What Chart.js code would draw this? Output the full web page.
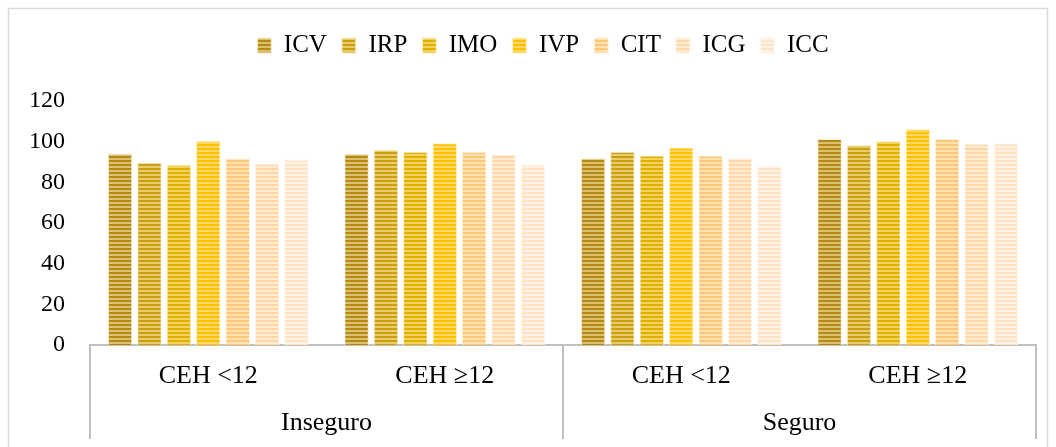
<!DOCTYPE html>
<html><head><meta charset="utf-8">
<script src="https://cdn.jsdelivr.net/npm/chart.js@4.4.1/dist/chart.umd.min.js"></script>
<style>html,body{margin:0;padding:0;background:#fff}#wrap{width:1056px;height:447px;position:relative}</style>
</head><body><div id="wrap"><canvas id="c" width="1056" height="447"></canvas></div>
<script>
const categories = ['CEH <12', 'CEH \u226512', 'CEH <12', 'CEH \u226512'];
const groups = ['Inseguro', 'Seguro'];
const seriesNames = ['ICV', 'IRP', 'IMO', 'IVP', 'CIT', 'ICG', 'ICC'];
const ICV = [94.2, 94.0, 91.9, 101.3];
const IRP = [89.8, 96.0, 95.1, 98.4];
const IMO = [88.6, 95.0, 93.2, 100.3];
const IVP = [100.5, 99.2, 97.1, 106.2];
const CIT = [91.9, 95.0, 93.2, 101.3];
const ICG = [89.1, 93.8, 91.9, 98.8];
const ICC = [91.2, 88.8, 88.1, 99.2];
const yTicks = [0, 20, 40, 60, 80, 100, 120];

const seriesValues = [ICV, IRP, IMO, IVP, CIT, ICG, ICC];
const stripeColors = [
  ['#b38b12', '#dbc072', '#fbf0d2'],
  ['#c99f14', '#e8cc6c', '#fbf0d2'],
  ['#e0b000', '#f3d25e', '#fdf2cf'],
  ['#ffc000', '#ffd866', '#fff2c8'],
  ['#fcc875', '#fee1b2', '#fff3e0'],
  ['#fdd8a6', '#feebd2', '#fff6ea'],
  ['#fee3c4', '#fff1e3', '#fff8f0']
];
function makePattern(dark, light) {
  const c = document.createElement('canvas');
  c.width = 4; c.height = 4;
  const g = c.getContext('2d');
  g.fillStyle = light; g.fillRect(0, 0, 4, 4);
  g.fillStyle = dark; g.fillRect(0, 0, 4, 2);
  return g.createPattern(c, 'repeat');
}
const FONT = "'Liberation Serif', 'Times New Roman', serif";

const framePlugin = {
  id: 'frame',
  beforeInit(chart) {
    const lg = chart.legend;
    if (lg) {
      const orig = lg.fit;
      lg.fit = function () { orig.call(this); this.height += 33; };
    }
  },
  afterLayout(chart) {
    const lg = chart.legend;
    if (lg) { lg.left += 20; lg.right += 20; }
  },
  beforeDraw(chart) {
    const ctx = chart.ctx;
    ctx.save();
    ctx.fillStyle = '#ffffff';
    ctx.fillRect(0, 0, chart.width, chart.height);
    ctx.strokeStyle = '#d9d9d9';
    ctx.lineWidth = 1.5;
    ctx.strokeRect(8.5, 8.5, 1039, 470);
    ctx.restore();
  },
  afterDraw(chart) {
    const ctx = chart.ctx;
    const sx = chart.scales.x2;
    const n = groups.length;
    const w = (sx.right - sx.left) / n;
    ctx.save();
    ctx.strokeStyle = '#bfbfbf';
    ctx.lineWidth = 2;
    for (let i = 0; i <= n; i++) {
      const x = Math.round(sx.left + i * w);
      ctx.beginPath();
      ctx.moveTo(x, chart.chartArea.bottom);
      ctx.lineTo(x, 439);
      ctx.stroke();
    }
    ctx.restore();
  }
};

new Chart(document.getElementById('c'), {
  type: 'bar',
  data: {
    labels: categories,
    datasets: seriesNames.map((name, i) => ({
      label: name,
      data: seriesValues[i],
      backgroundColor: makePattern(stripeColors[i][0], stripeColors[i][1]),
      borderColor: stripeColors[i][2],
      borderWidth: 1,
      categoryPercentage: 0.87,
      barPercentage: 0.835
    }))
  },
  options: {
    responsive: false,
    animation: false,
    devicePixelRatio: 1,
    layout: { padding: { left: 10, right: 20, top: 18, bottom: 0 } },
    plugins: {
      legend: {
        position: 'top',
        labels: {
          font: { family: FONT, size: 25 },
          color: '#000',
          boxWidth: 14,
          boxHeight: 15,
          padding: 15
        }
      },
      tooltip: { enabled: false }
    },
    scales: {
      y: {
        min: 0, max: 120,
        afterBuildTicks(scale) { scale.ticks = yTicks.map(v => ({ value: v })); },
        afterFit(scale) { scale.width = 80; },
        grid: { display: false, drawTicks: false },
        border: { display: false },
        ticks: { font: { family: FONT, size: 24 }, color: '#000', padding: 25 }
      },
      x: {
        afterFit(scale) { scale.height = 47; },
        grid: { display: false, drawTicks: false },
        border: { display: true, color: '#bfbfbf', width: 2 },
        ticks: { font: { family: FONT, size: 26 }, color: '#000', padding: 16, maxRotation: 0, autoSkip: false }
      },
      x2: {
        type: 'category',
        labels: groups,
        position: 'bottom',
        offset: true,
        afterFit(scale) { scale.height = 55; },
        grid: { display: false, drawTicks: false },
        border: { display: false },
        ticks: { font: { family: FONT, size: 26 }, color: '#000', padding: 16, maxRotation: 0, autoSkip: false }
      }
    }
  },
  plugins: [framePlugin]
});
</script>
</body></html>
